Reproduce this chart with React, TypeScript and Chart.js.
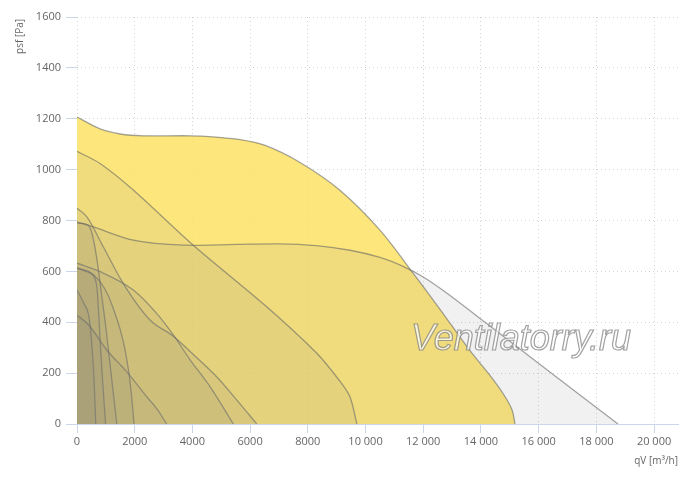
import React, { useEffect, useRef } from 'react';
import { Chart, registerables } from 'chart.js';

Chart.register(...registerables);

// x ticks (m³/h) and y ticks (Pa)
const qTicks = [0, 2000, 4000, 6000, 8000, 10000, 12000, 14000, 16000, 18000, 20000];
const pTicks = [0, 200, 400, 600, 800, 1000, 1200, 1400, 1600];

// selected fan (yellow)
const qA = [0, 800, 1500, 2300, 3900, 4700, 5650, 6500, 7700, 9100, 10500, 11700, 12600, 13600, 14300, 14800, 15080, 15180];
const pA = [1207, 1160, 1140, 1133, 1133, 1129, 1118, 1096, 1030, 920, 762, 585, 448, 291, 193, 114, 55, 0];

// other fans (grey overlays)
const qB = [0, 565, 1950, 3700, 5500, 7000, 8300, 9460, 10500, 11300, 12000, 12800, 14200, 16050, 17430, 18750];
const pB = [795, 775, 723, 703, 706, 708, 701, 683, 655, 620, 578, 516, 395, 234, 114, 0];

const qC = [0, 800, 1950, 4030, 6575, 8310, 9100, 9460, 9700];
const pC = [1072, 1024, 920, 703, 461, 278, 170, 107, 0];

const qD = [0, 335, 910, 1600, 2530, 3340, 3920, 4840, 5540, 6230];
const pD = [848, 815, 697, 553, 409, 345, 285, 186, 94, 0];

const qE = [0, 800, 1950, 2760, 3340, 3920, 4610, 5420];
const pE = [632, 599, 527, 435, 350, 252, 147, 0];

const qF = [0, 400, 1030, 1720, 2420, 2800, 3110];
const pF = [428, 390, 291, 206, 107, 55, 0];

const qG = [0, 400, 800, 1100, 1300, 1500, 1650, 1800, 1900, 1975];
const pG = [612, 600, 560, 500, 440, 370, 300, 200, 100, 0];

const qH = [0, 200, 400, 530, 700, 850, 1000, 1150, 1280, 1380];
const pH = [790, 788, 780, 745, 640, 510, 380, 230, 100, 0];

const qI = [0, 300, 590, 700, 760, 820, 900, 990];
const pI = [615, 600, 580, 527, 420, 291, 150, 0];

const qJ = [0, 240, 415, 530, 600, 650];
const pJ = [527, 474, 420, 290, 150, 0];

const YELLOW = 'rgba(253, 227, 102, 0.85)';
const GREY = 'rgba(120, 120, 120, 0.1)';
const LINE = 'rgba(100, 100, 100, 0.58)';
const AXIS = '#ccd6eb';
const GRID = '#d4d4d4';
const TEXT = '#666666';
const FONT = '"Open Sans", "Liberation Sans", sans-serif';

const fmt = (v: number) => (v >= 10000 ? String(v).replace(/\B(?=(\d{3})+(?!\d))/g, ' ') : String(v));

// smooth: long curves drawn with bezier tension, steep small ones monotone
const curves = [
  { q: qB, p: pB, smooth: true },
  { q: qC, p: pC, smooth: true },
  { q: qD, p: pD, smooth: false },
  { q: qE, p: pE, smooth: false },
  { q: qF, p: pF, smooth: false },
  { q: qG, p: pG, smooth: false },
  { q: qH, p: pH, smooth: false },
  { q: qI, p: pI, smooth: false },
  { q: qJ, p: pJ, smooth: false },
];

const textPlugin = {
  id: 'texts',
  afterDraw(chart: any) {
    const ctx = chart.ctx as CanvasRenderingContext2D;
    ctx.save();
    ctx.fillStyle = TEXT;
    ctx.font = `10px ${FONT}`;
    ctx.textBaseline = 'middle';
    ctx.textAlign = 'right';
    ctx.fillText('qV [m³/h]', 678, 461);
    ctx.translate(20, 19);
    ctx.rotate(-Math.PI / 2);
    ctx.fillText('psf [Pa]', 0, 0);
    ctx.restore();

    ctx.save();
    ctx.font = `italic 36px "Liberation Sans", Arial, sans-serif`;
    ctx.textAlign = 'center';
    ctx.textBaseline = 'alphabetic';
    ctx.fillStyle = 'rgba(255, 255, 255, 0.7)';
    ctx.strokeStyle = 'rgba(130, 130, 130, 0.75)';
    ctx.lineWidth = 1.2;
    ctx.fillText('Ventilatorry.ru', 521, 350);
    ctx.strokeText('Ventilatorry.ru', 521, 350);
    ctx.restore();
  },
};

const App: React.FC = () => {
  const canvasRef = useRef<HTMLCanvasElement | null>(null);

  useEffect(() => {
    if (!canvasRef.current) return;

    const mk = (q: number[], p: number[], fill: string, smooth: boolean) => ({
      data: q.map((x, i) => ({ x, y: p[i] })),
      borderColor: LINE,
      borderWidth: 1.3,
      backgroundColor: fill,
      fill: 'origin',
      pointRadius: 0,
      tension: smooth ? 0.3 : 0,
      cubicInterpolationMode: smooth ? ('default' as const) : ('monotone' as const),
    });

    // yellow curve last so it is drawn first (underneath the grey overlays)
    const datasets = [
      ...curves.map(c => mk(c.q, c.p, GREY, c.smooth)),
      mk(qA, pA, YELLOW, true),
    ];

    const chart = new Chart(canvasRef.current, {
      type: 'line',
      data: { datasets },
      options: {
        responsive: false,
        animation: false,
        layout: { padding: { left: 0, top: 17, right: 22, bottom: 0 } },
        plugins: {
          legend: { display: false },
          tooltip: { enabled: false },
        },
        scales: {
          x: {
            type: 'linear',
            min: 0,
            max: 20830,
            afterBuildTicks: (s: any) => {
              s.ticks = qTicks.map(v => ({ value: v }));
            },
            afterFit: (s: any) => {
              s.height = 53;
            },
            grid: {
              color: GRID,
              tickColor: AXIS,
              tickLength: 9,
              drawTicks: true,
            },
            border: { display: true, color: AXIS, width: 1, dash: [1, 3] },
            ticks: {
              color: TEXT,
              padding: 2,
              maxRotation: 0,
              font: { family: FONT, size: 11 },
              callback: (v: any) => fmt(Number(v)),
            },
          },
          y: {
            type: 'linear',
            min: 0,
            max: 1600,
            afterBuildTicks: (s: any) => {
              s.ticks = pTicks.map(v => ({ value: v }));
            },
            afterFit: (s: any) => {
              s.width = 77;
            },
            grid: {
              color: GRID,
              tickColor: AXIS,
              tickLength: 11,
              drawTicks: true,
            },
            border: { display: false, dash: [1, 3] },
            ticks: {
              color: TEXT,
              padding: 5,
              font: { family: FONT, size: 11 },
              callback: (v: any) => String(v),
            },
          },
        },
      },
      plugins: [textPlugin],
    });

    return () => chart.destroy();
  }, []);

  return (
    <div style={{ position: 'absolute', left: 0, top: 0, width: 700, height: 477, background: '#fff' }}>
      <canvas ref={canvasRef} width={700} height={477} />
    </div>
  );
};

export default App;
